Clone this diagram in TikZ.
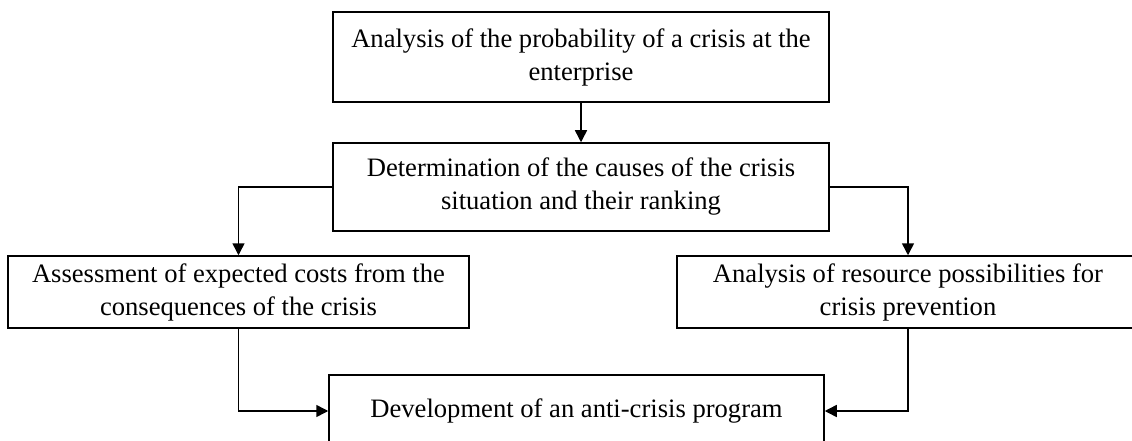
\documentclass[tikz,border=0pt]{standalone}
\usepackage{fontspec}
\setmainfont{Liberation Serif}
\usetikzlibrary{arrows.meta}
\begin{document}
\begin{tikzpicture}[x=1pt,y=-1pt,
  box/.style={draw,line width=1.5pt,rectangle,align=center,inner sep=0pt,
    font=\fontsize{26.6}{33}\selectfont},
  arr/.style={line width=1.5pt,-{Triangle[length=12pt,width=12pt]}}]
\useasboundingbox (0,0) rectangle (1132,441);
\clip (0,0) rectangle (1132,441);
\node[box,minimum width=496pt,minimum height=90pt] (top) at (581,57)
  {Analysis of the probability of a crisis at the\\enterprise};
\node[box,minimum width=496pt,minimum height=88pt] (det) at (581,187)
  {Determination of the causes of the crisis\\situation and their ranking};
\node[box,minimum width=461pt,minimum height=72pt] (left) at (238.5,292)
  {Assessment of expected costs from the\\consequences of the crisis};
\node[box,minimum width=462pt,minimum height=72pt] (right) at (908,292)
  {Analysis of resource possibilities for\\crisis prevention};
\node[box,minimum width=495pt,minimum height=72pt] (dev) at (576.5,411)
  {Development of an anti-crisis program};
\draw[arr] (top) -- (det);
\draw[arr] (det.west) -| (left.north);
\draw[arr] (det.east) -| (right.north);
\draw[arr] (left.south) |- (dev.west);
\draw[arr] (right.south) |- (dev.east);
\end{tikzpicture}
\end{document}
